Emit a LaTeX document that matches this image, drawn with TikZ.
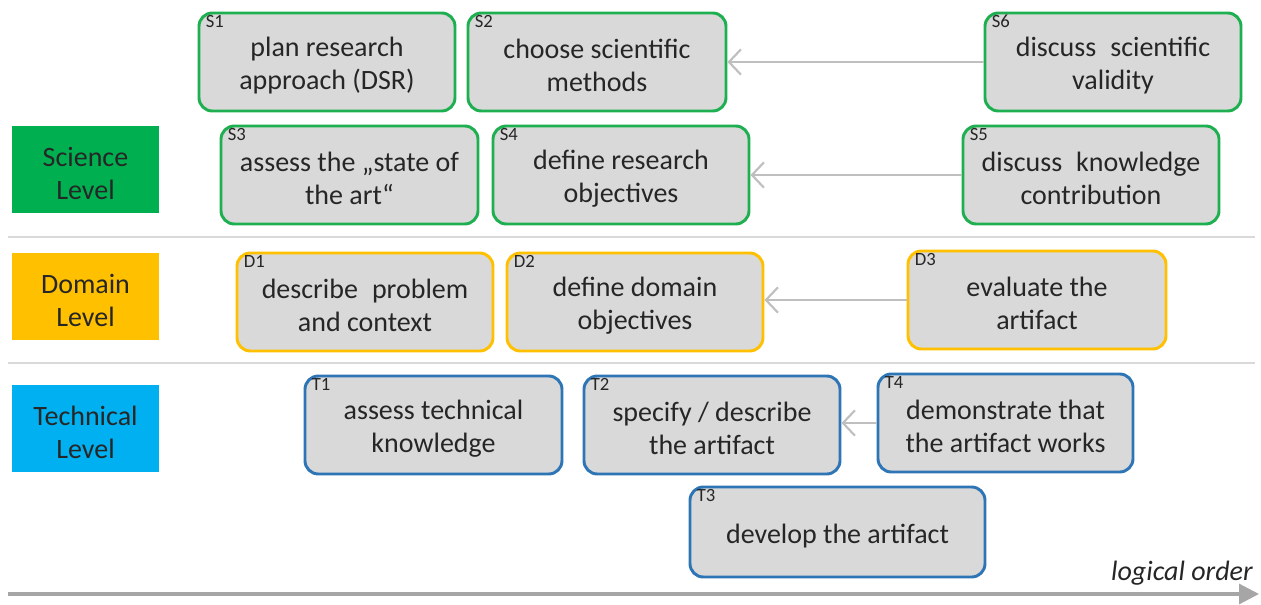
\documentclass[tikz,border=0pt]{standalone}
\usepackage{fontspec}
\setmainfont{Carlito}
\usetikzlibrary{arrows.meta}
\definecolor{sciG}{HTML}{00B050}
\definecolor{domY}{HTML}{FFC000}
\definecolor{tecB}{HTML}{00B0F0}
\definecolor{bxG}{HTML}{1EB050}
\definecolor{bxY}{HTML}{FFC000}
\definecolor{bxB}{HTML}{2E75B6}
\definecolor{boxfill}{HTML}{D9D9D9}
\definecolor{txt}{HTML}{262626}
\definecolor{conncol}{HTML}{BFBFBF}
\definecolor{sepcol}{HTML}{D9D9D9}
\definecolor{axcol}{HTML}{A6A6A6}
\newcommand\tstrut{\rule{0pt}{20pt}}
\tikzset{
  stepbox/.style={draw, line width=2.2pt, fill=boxfill, rounded corners=10pt,
    align=center, text=txt, inner sep=0pt,
    font=\fontsize{21}{25}\selectfont},
  gbox/.style={stepbox, draw=bxG},
  ybox/.style={stepbox, draw=bxY},
  bbox/.style={stepbox, draw=bxB},
  tag/.style={anchor=north west, inner sep=0pt, xshift=6pt, yshift=-2.5pt,
    text=txt, font=\fontsize{14}{14}\selectfont},
  levelbox/.style={rectangle, align=center, text=txt, inner sep=0pt,
    minimum width=110pt, minimum height=65pt,
    font=\fontsize{21}{25}\selectfont},
  conn/.style={draw=conncol, line width=2.2pt,
    -{Straight Barb[length=9pt,width=19pt,line width=1.6pt]}},
  sep/.style={draw=sepcol, line width=2.2pt},
  axis/.style={draw=axcol, line width=2.4pt,
    -{Triangle[length=15pt,width=15pt]}}
}
\begin{document}
\begin{tikzpicture}[x=0.75pt,y=-0.75pt]
\useasboundingbox (0,0) rectangle (1261,604);
% level labels
\node[levelbox, fill=sciG] (sci) at (85.5,169.5) {\tstrut Science\\Level};
\node[levelbox, fill=domY] (dom) at (85.5,296.5) {\tstrut Domain\\Level};
\node[levelbox, fill=tecB] (tec) at (85.5,428.5) {\tstrut Technical\\Level};
% separators
\draw[sep] (8,237) -- (1255,237);
\draw[sep] (8,363) -- (1255,363);
% science level
\node[gbox, minimum width=192pt, minimum height=73.5pt, label={[tag]north west:S1}] (S1) at (327,62) {\tstrut plan research\\approach (DSR)};
\node[gbox, minimum width=193.5pt, minimum height=73.5pt, label={[tag]north west:S2}] (S2) at (597,62) {\tstrut choose scientific\\methods};
\node[gbox, minimum width=192pt, minimum height=73.5pt, label={[tag]north west:S6}] (S6) at (1113,62) {\tstrut discuss\enspace scientific\\validity};
\node[gbox, minimum width=192.75pt, minimum height=73.5pt, label={[tag]north west:S3}] (S3) at (349.5,175) {\tstrut assess the „state of\\the art“};
\node[gbox, minimum width=192pt, minimum height=73.5pt, label={[tag]north west:S4}] (S4) at (621,175) {\tstrut define research\\objectives};
\node[gbox, minimum width=192pt, minimum height=73.5pt, label={[tag]north west:S5}] (S5) at (1091,175) {\tstrut discuss\enspace knowledge\\contribution};
% domain level
\node[ybox, minimum width=192pt, minimum height=73.5pt, label={[tag]north west:D1}] (D1) at (365,302) {\tstrut describe\enspace problem\\and context};
\node[ybox, minimum width=192pt, minimum height=73.5pt, label={[tag]north west:D2}] (D2) at (635,302) {\tstrut define domain\\objectives};
\node[ybox, minimum width=193.5pt, minimum height=73.5pt, label={[tag]north west:D3}] (D3) at (1037,300) {\tstrut evaluate the\\artifact};
% technical level
\node[bbox, minimum width=192.75pt, minimum height=73.5pt, label={[tag]north west:T1}] (T1) at (433.5,425) {\tstrut assess technical\\knowledge};
\node[bbox, minimum width=192pt, minimum height=73.5pt, label={[tag]north west:T2}] (T2) at (712,425) {\tstrut specify / describe\\the artifact};
\node[bbox, minimum width=191.25pt, minimum height=73.5pt, label={[tag]north west:T4}] (T4) at (1005.5,423) {\tstrut demonstrate that\\the artifact works};
\node[bbox, minimum width=221.25pt, minimum height=67.5pt, label={[tag]north west:T3}] (T3) at (837.5,532) {\tstrut develop the artifact};
% connectors
\draw[conn] (S6.west) -- (S2.east);
\draw[conn] (S5.west) -- (S4.east);
\draw[conn] (D3.west) -- (D2.east |- D3.west);
\draw[conn] (T4.west) -- (T2.east |- T4.west);
% logical order axis
\coordinate (ax0) at (8,594);
\coordinate (ax1) at (1259,594);
\draw[axis] (ax0) -- (ax1);
\node[anchor=south east, inner sep=0pt, text=txt, font=\fontsize{21}{25}\selectfont\itshape] (lo) at (1253,586) {logical order};
\end{tikzpicture}
\end{document}
